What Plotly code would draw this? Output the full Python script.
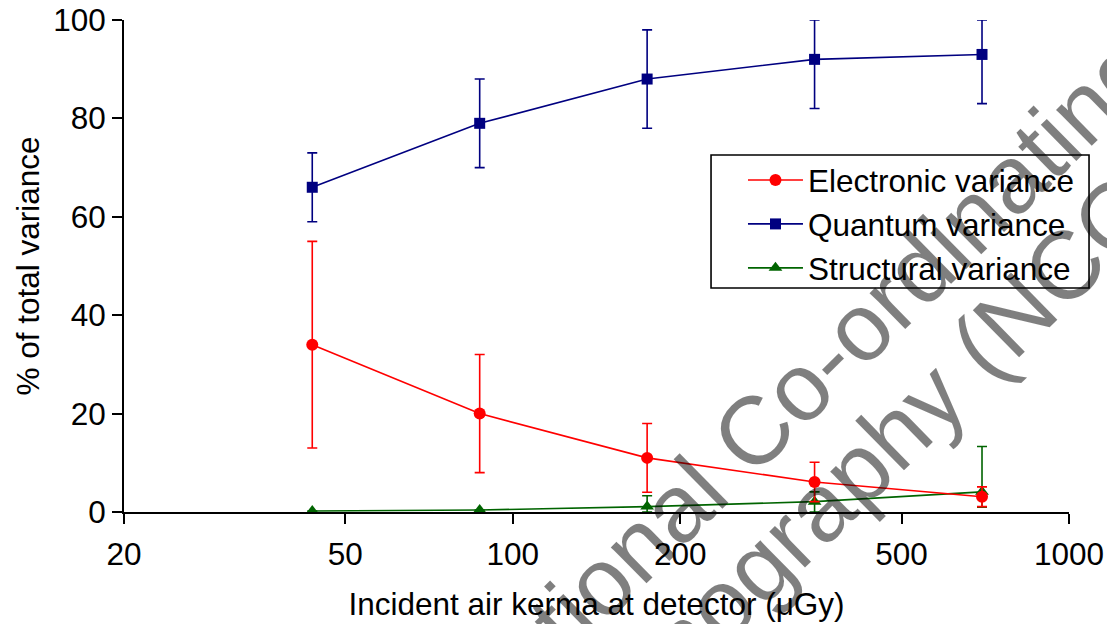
import numpy as np
import plotly.graph_objects as go

# Incident air kerma at the detector (µGy)
kerma = [43.6, 87.2, 174.4, 348.8, 697.6]

# Share of total variance (%) with asymmetric error bars
electronic = [34, 20, 11, 6.1, 3.1]
electronic_up = [21, 12, 7, 4, 2]
electronic_down = [21, 12, 7, 4, 2]

quantum = [66, 79, 88, 92, 93]
quantum_up = [7, 9, 10, 8, 7]
quantum_down = [7, 9, 10, 10, 10]

structural = [0.2, 0.4, 1.1, 2.1, 4.1]
structural_up = [0, 0, 2.2, 2.0, 9.2]
structural_down = [0, 0, 1.1, 2.1, 3.1]

x_ticks = [20, 50, 100, 200, 500, 1000]
y_ticks = [0, 20, 40, 60, 80, 100]

FONT = "Arial, Liberation Sans, sans-serif"
RED = "#ff0000"
NAVY = "#000080"
GREEN = "#006400"
NBSP = "\u00a0"


def err(up, down, color):
    return dict(type="data", symmetric=False, array=up, arrayminus=down,
                color=color, thickness=1.6, width=5)


fig = go.Figure()

fig.add_trace(go.Scatter(
    x=kerma, y=structural, name="Structural variance", mode="lines+markers",
    line=dict(color=GREEN, width=1.6),
    marker=dict(symbol="triangle-up", size=12, color=GREEN),
    error_y=err(structural_up, structural_down, GREEN),
    cliponaxis=False, legendrank=3,
))
fig.add_trace(go.Scatter(
    x=kerma, y=quantum, name="Quantum variance", mode="lines+markers",
    line=dict(color=NAVY, width=1.6),
    marker=dict(symbol="square", size=11, color=NAVY),
    error_y=err(quantum_up, quantum_down, NAVY),
    cliponaxis=False, legendrank=2,
))
fig.add_trace(go.Scatter(
    x=kerma, y=electronic, name="Electronic variance", mode="lines+markers",
    line=dict(color=RED, width=1.6),
    marker=dict(symbol="circle", size=12, color=RED),
    error_y=err(electronic_up, electronic_down, RED),
    cliponaxis=False, legendrank=1,
))

axis_common = dict(
    showline=True, linecolor="black", linewidth=1.6,
    ticks="outside", ticklen=10, tickwidth=1.6, tickcolor="black",
    showgrid=False, zeroline=False, automargin=False,
    tickfont=dict(family=FONT, size=31.5, color="black"),
)

fig.update_xaxes(
    type="log", range=[np.log10(20), 3], tickvals=x_ticks,
    ticktext=[str(v) for v in x_ticks], ticklabelstandoff=3,
    title=dict(text="Incident air kerma at detector (μGy)",
               font=dict(family=FONT, size=31.5, color="black"), standoff=22),
    **axis_common,
)
fig.update_yaxes(
    range=[0, 100], tickvals=y_ticks,
    title=dict(text="% of total variance",
               font=dict(family=FONT, size=31.5, color="black"), standoff=4),
    **axis_common,
)

# Legend frame
fig.add_shape(
    type="rect", xref="paper", yref="paper",
    x0=0.6212, x1=1.0212, y0=0.4553, y1=0.7256,
    line=dict(color="black", width=1.6), fillcolor="white", layer="above",
)

# Publisher's watermark across the plot
for txt, xc, yc in [("National Co-ordinating", 0.714, 0.256),
                    ("Mammography (NCCPM)", 0.797, 0.128)]:
    fig.add_annotation(
        text=txt, xref="paper", yref="paper", x=xc, y=yc,
        xanchor="center", yanchor="middle", showarrow=False,
        textangle=-44.5, font=dict(family=FONT, size=96, color="rgba(0,0,0,0.5)"),
    )

fig.update_layout(
    width=1107, height=624,
    margin=dict(l=124, r=38, t=20, b=112),
    paper_bgcolor="white", plot_bgcolor="white",
    showlegend=True,
    legend=dict(
        x=0.655, y=0.7297, xanchor="left", yanchor="top",
        bgcolor="rgba(0,0,0,0)", borderwidth=0,
        font=dict(family=FONT, size=31.5, color="black"),
        tracegroupgap=0, itemwidth=55,
    ),
)

fig.write_html("out.html")
